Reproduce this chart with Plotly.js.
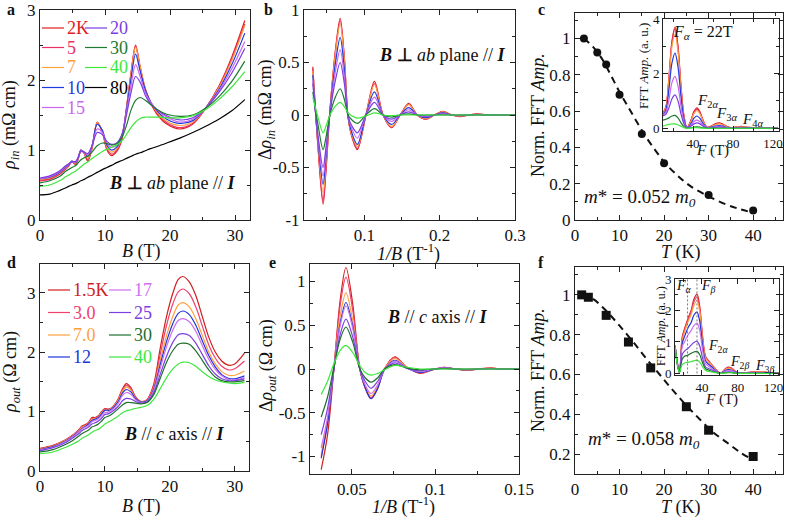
<!DOCTYPE html>
<html><head><meta charset="utf-8">
<script src="https://cdn.plot.ly/plotly-3.0.1.min.js"></script>
<style>html,body{margin:0;padding:0;background:#fff}#g{width:787px;height:517px}</style>
</head><body><div id="g"></div>
<script>
// ---------------- DATA ----------------
// panel a: rho_in vs B
const B_IN = [0,1.5,3,4,4.4,4.9,5.5,5.9,6.3,6.8,7.35,8.0,8.8,9.6,10.3,11.0,11.8,12.6,13.3,14.0,14.7,15.4,16.2,17,18,19.5,21.5,23.5,25.5,27.5,29.5,31.5];
const rhoIn2K  = [0.57,0.59,0.66,0.74,0.77,0.84,0.79,0.88,1.00,0.95,0.84,1.02,1.40,1.25,1.00,0.92,0.98,1.15,1.60,2.10,2.50,2.19,1.86,1.67,1.51,1.37,1.30,1.37,1.60,1.91,2.33,2.85];
const rhoIn5K  = [0.56,0.58,0.65,0.73,0.77,0.83,0.80,0.88,1.00,0.95,0.86,1.03,1.39,1.26,1.02,0.94,1.00,1.17,1.60,2.09,2.48,2.18,1.87,1.68,1.53,1.39,1.32,1.38,1.60,1.90,2.30,2.80];
const rhoIn7K  = [0.58,0.60,0.67,0.75,0.78,0.84,0.81,0.89,1.00,0.96,0.88,1.04,1.39,1.27,1.04,0.97,1.02,1.18,1.60,2.08,2.47,2.19,1.88,1.69,1.54,1.41,1.35,1.40,1.60,1.89,2.28,2.78];
const rhoIn10K = [0.59,0.61,0.68,0.76,0.79,0.84,0.82,0.90,1.00,0.97,0.91,1.06,1.37,1.28,1.07,1.00,1.04,1.20,1.58,2.02,2.37,2.13,1.86,1.69,1.56,1.44,1.38,1.42,1.60,1.86,2.22,2.67];
const rhoIn15K = [0.59,0.62,0.69,0.77,0.80,0.83,0.83,0.90,0.99,0.97,0.93,1.06,1.30,1.25,1.09,1.04,1.07,1.22,1.55,1.92,2.22,2.05,1.82,1.68,1.57,1.47,1.40,1.44,1.60,1.84,2.16,2.55];
const rhoIn20K = [0.60,0.63,0.70,0.78,0.80,0.83,0.84,0.90,0.98,0.97,0.95,1.06,1.25,1.22,1.12,1.08,1.10,1.22,1.50,1.82,2.05,1.97,1.78,1.66,1.58,1.49,1.43,1.46,1.60,1.82,2.10,2.45];
const rhoIn30K = [0.53,0.56,0.62,0.70,0.72,0.75,0.78,0.82,0.86,0.89,0.91,0.97,1.06,1.10,1.09,1.07,1.09,1.18,1.35,1.57,1.71,1.75,1.71,1.65,1.58,1.51,1.48,1.50,1.60,1.76,1.98,2.27];
const rhoIn40K = [0.48,0.50,0.56,0.62,0.64,0.67,0.70,0.73,0.76,0.80,0.83,0.88,0.93,0.98,1.01,1.04,1.07,1.13,1.22,1.32,1.40,1.45,1.47,1.47,1.47,1.46,1.46,1.49,1.58,1.72,1.90,2.12];
const rhoIn80K = [0.36,0.37,0.42,0.46,0.48,0.50,0.52,0.54,0.56,0.58,0.61,0.64,0.68,0.72,0.75,0.78,0.82,0.85,0.88,0.91,0.94,0.96,0.99,1.02,1.05,1.10,1.17,1.25,1.34,1.44,1.56,1.72];
const LABELS_IN = ['2K','5','7','10','15','20','30','40','80'];

// panel b: delta rho_in vs 1/B
const U_IN = [0.0317,0.0385,0.0453,0.049,0.0545,0.0622,0.068,0.0735,0.0785,0.084,0.0908,0.1022,0.1135,0.1249,0.1362,0.1476,0.159,0.1703,0.1817,0.193,0.2045,0.216,0.227,0.239,0.25,0.262,0.273,0.3];
const dIn2K  = [0.46,-0.30,-0.85,-0.55,0.05,0.65,0.92,0.55,-0.02,-0.22,-0.33,0,0.32,0,-0.12,0,0.11,0,-0.04,0,0.035,0,-0.015,0,0.012,0,-0.004,0];
const dIn5K  = [0.44,-0.29,-0.82,-0.53,0.05,0.63,0.90,0.54,-0.02,-0.21,-0.32,0,0.30,0,-0.12,0,0.10,0,-0.04,0,0.03,0,-0.012,0,0.01,0,-0.003,0];
const dIn7K  = [0.42,-0.26,-0.74,-0.47,0.05,0.61,0.87,0.52,-0.02,-0.20,-0.30,0,0.29,0,-0.11,0,0.10,0,-0.035,0,0.03,0,-0.01,0,0.008,0,-0.003,0];
const dIn10K = [0.38,-0.24,-0.66,-0.42,0.04,0.52,0.74,0.44,-0.02,-0.18,-0.28,0,0.22,0,-0.09,0,0.07,0,-0.025,0,0.02,0,-0.007,0,0.005,0,-0.002,0];
const dIn15K = [0.33,-0.22,-0.58,-0.37,0.03,0.44,0.62,0.37,-0.01,-0.14,-0.22,0,0.17,0,-0.06,0,0.05,0,-0.015,0,0.012,0,-0.004,0,0.003,0,0,0];
const dIn20K = [0.30,-0.19,-0.50,-0.32,0.02,0.35,0.50,0.30,-0.01,-0.11,-0.17,0,0.12,0,-0.04,0,0.03,0,-0.01,0,0.008,0,-0.002,0,0.002,0,0,0];
const dIn30K = [0.22,-0.09,-0.33,-0.22,0.0,0.18,0.25,0.15,0.0,-0.05,-0.08,0,0.06,0,-0.02,0,0.01,0,0,0,0,0,0,0,0,0,0,0];
const dIn40K = [0.17,-0.02,-0.17,-0.11,0.0,0.09,0.12,0.08,0.02,-0.01,-0.03,-0.01,0.02,0,-0.005,0,0,0,0,0,0,0,0,0,0,0,0,0];

// panel c: normalized FFT amplitude vs T
const T_C = [2,5,7,10,15,20,30,40];
const AMP_C = [1.0,0.923,0.857,0.69,0.474,0.312,0.138,0.053];
const T_C_FIT = [2,4,6,8,10,12,14,16,18,20,23,26,30,34,37,40];
const AMP_C_FIT = [1.0,0.955,0.89,0.8,0.705,0.62,0.535,0.455,0.385,0.32,0.245,0.185,0.13,0.085,0.06,0.04];
// panel c inset: FFT spectra
const F_C = [10,13,16,19,22,25,28,31,34,38,41,44,47,50,54,58,62,66,70,74,78,83,88,93,100,110,125];
const fftC2K  = [0.55,0.8,1.9,3.2,3.7,3.0,1.55,0.45,0.02,0.3,0.62,0.75,0.6,0.3,0.04,0.08,0.16,0.2,0.15,0.06,0.02,0.05,0.07,0.04,0.02,0.01,0.0];
const fftC5K  = [0.55,0.78,1.85,3.15,3.65,2.95,1.5,0.43,0.02,0.28,0.58,0.7,0.56,0.28,0.04,0.07,0.14,0.18,0.13,0.05,0.02,0.04,0.06,0.03,0.02,0.01,0.0];
const fftC7K  = [0.53,0.75,1.78,3.0,3.45,2.8,1.42,0.4,0.02,0.26,0.54,0.65,0.52,0.26,0.04,0.06,0.13,0.16,0.12,0.05,0.02,0.04,0.05,0.03,0.02,0.01,0.0];
const fftC10K = [0.5,0.68,1.45,2.4,2.75,2.25,1.15,0.33,0.02,0.18,0.37,0.45,0.36,0.18,0.03,0.04,0.08,0.1,0.08,0.03,0.01,0.02,0.03,0.02,0.01,0.0,0.0];
const fftC15K = [0.48,0.6,1.05,1.68,1.9,1.55,0.8,0.24,0.01,0.12,0.25,0.3,0.24,0.12,0.02,0.03,0.05,0.06,0.05,0.02,0.01,0.01,0.02,0.01,0.0,0.0,0.0];
const fftC20K = [0.45,0.52,0.75,1.08,1.22,1.0,0.52,0.16,0.01,0.08,0.16,0.2,0.16,0.08,0.01,0.02,0.03,0.04,0.03,0.01,0.0,0.0,0.01,0.0,0.0,0.0,0.0];
const fftC30K = [0.3,0.33,0.38,0.45,0.47,0.38,0.2,0.06,0.0,0.02,0.04,0.05,0.04,0.02,0.0,0.0,0.0,0.0,0.0,0.0,0.0,0.0,0.0,0.0,0.0,0.0,0.0];
const fftC40K = [0.08,0.12,0.14,0.16,0.16,0.12,0.07,0.02,0.0,0.01,0.02,0.02,0.01,0.0,0.0,0.0,0.0,0.0,0.0,0.0,0.0,0.0,0.0,0.0,0.0,0.0,0.0];

// panel d: rho_out vs B
const B_OUT = [0,2,4,5,6,6.5,7,7.5,8,8.5,9,9.5,10,10.5,11,12,12.7,13.3,14,14.7,15.5,16.5,17.5,18.5,19.5,20.5,21.3,22,23,24,25,26,27,28,29,30,31.5];
const rhoOut1p5K = [0.38,0.43,0.53,0.60,0.70,0.76,0.78,0.82,0.90,0.90,0.93,1.00,1.05,1.04,1.06,1.20,1.38,1.47,1.40,1.25,1.17,1.20,1.45,2.05,2.60,3.00,3.22,3.27,3.18,2.95,2.60,2.25,2.00,1.85,1.78,1.80,1.98];
const rhoOut3K  = [0.37,0.42,0.52,0.59,0.69,0.75,0.77,0.81,0.88,0.89,0.92,0.99,1.04,1.03,1.05,1.19,1.36,1.44,1.38,1.24,1.17,1.2,1.42,1.95,2.45,2.82,3.01,3.06,2.98,2.76,2.44,2.12,1.9,1.76,1.70,1.72,1.85];
const rhoOut7K  = [0.37,0.42,0.52,0.59,0.68,0.74,0.76,0.8,0.87,0.88,0.91,0.98,1.03,1.02,1.05,1.18,1.34,1.41,1.36,1.23,1.17,1.19,1.39,1.85,2.28,2.61,2.79,2.83,2.76,2.56,2.28,2.0,1.8,1.67,1.61,1.61,1.68];
const rhoOut12K = [0.36,0.41,0.51,0.58,0.67,0.72,0.75,0.79,0.85,0.87,0.9,0.96,1.02,1.02,1.04,1.16,1.31,1.37,1.33,1.22,1.16,1.18,1.37,1.78,2.18,2.49,2.65,2.69,2.63,2.45,2.19,1.94,1.75,1.62,1.56,1.55,1.6];
const rhoOut17K = [0.35,0.4,0.5,0.57,0.66,0.71,0.74,0.77,0.83,0.85,0.88,0.93,0.98,0.99,1.02,1.13,1.27,1.32,1.29,1.2,1.15,1.17,1.35,1.72,2.09,2.38,2.53,2.56,2.51,2.35,2.11,1.88,1.71,1.6,1.54,1.53,1.57];
const rhoOut25K = [0.34,0.39,0.48,0.55,0.63,0.68,0.71,0.74,0.79,0.81,0.84,0.89,0.95,0.96,0.99,1.08,1.18,1.22,1.21,1.17,1.14,1.16,1.31,1.62,1.93,2.17,2.29,2.31,2.28,2.15,1.96,1.77,1.63,1.55,1.52,1.52,1.55];
const rhoOut30K = [0.32,0.36,0.45,0.51,0.59,0.63,0.66,0.69,0.74,0.76,0.79,0.84,0.9,0.92,0.95,1.04,1.11,1.15,1.15,1.14,1.13,1.15,1.28,1.55,1.83,2.03,2.13,2.15,2.13,2.02,1.86,1.7,1.58,1.52,1.5,1.5,1.52];
const rhoOut40K = [0.29,0.32,0.4,0.45,0.51,0.55,0.58,0.61,0.65,0.68,0.7,0.74,0.79,0.82,0.85,0.92,0.98,1.01,1.03,1.05,1.07,1.1,1.2,1.38,1.57,1.72,1.8,1.83,1.82,1.76,1.67,1.59,1.53,1.5,1.48,1.47,1.49];
const LABELS_OUT = ['1.5K','3.0','7.0','12','17','25','30','40'];

// panel e: delta rho_out vs 1/B
const U_OUT = [0.0317,0.0355,0.0393,0.043,0.0465,0.0505,0.0548,0.058,0.0615,0.0655,0.0695,0.0757,0.083,0.091,0.098,0.105,0.112,0.119,0.126,0.133,0.14,0.15];
const dOut1p5K = [-1.15,-0.75,0.0,0.78,1.16,0.75,0.0,-0.22,-0.34,-0.22,0.0,0.14,0.02,-0.05,-0.01,0.02,0.0,-0.015,0.0,0.012,0.0,0.0];
const dOut3K  = [-1.0,-0.62,0.02,0.72,1.05,0.68,0.0,-0.21,-0.33,-0.21,0.0,0.13,0.02,-0.045,-0.01,0.018,0.0,-0.012,0.0,0.01,0.0,0.0];
const dOut7K  = [-0.97,-0.58,0.02,0.6,0.87,0.56,0.0,-0.2,-0.31,-0.2,0.0,0.12,0.02,-0.04,-0.01,0.016,0.0,-0.01,0.0,0.008,0.0,0.0];
const dOut12K = [-1.02,-0.62,0.0,0.52,0.76,0.5,0.0,-0.21,-0.34,-0.22,-0.01,0.1,0.01,-0.04,-0.01,0.014,0.0,-0.008,0.0,0.006,0.0,0.0];
const dOut17K = [-0.9,-0.55,0.0,0.49,0.72,0.47,0.0,-0.18,-0.28,-0.18,-0.01,0.09,0.01,-0.03,-0.005,0.012,0.0,-0.006,0.0,0.005,0.0,0.0];
const dOut25K = [-0.75,-0.45,0.0,0.39,0.57,0.37,0.0,-0.14,-0.22,-0.14,-0.01,0.07,0.01,-0.02,0.0,0.008,0.0,-0.004,0.0,0.003,0.0,0.0];
const dOut30K = [-0.55,-0.32,0.02,0.34,0.48,0.31,0.0,-0.1,-0.15,-0.1,0.0,0.05,0.01,-0.01,0.0,0.005,0.0,0.0,0.0,0.0,0.0,0.0];
const dOut40K = [-0.29,-0.14,0.06,0.21,0.27,0.19,0.04,-0.04,-0.07,-0.05,-0.01,0.04,0.02,0.0,0.0,0.0,0.0,0.0,0.0,0.0,0.0,0.0];

// panel f: normalized FFT amplitude vs T
const T_F = [1.5,3,7,12,17,25,30,40];
const AMP_F = [1.0,0.988,0.897,0.763,0.633,0.438,0.32,0.188];
const T_F_FIT = [1.5,4,7,10,13,16,19,22,25,28,31,34,37,40];
const AMP_F_FIT = [1.0,0.98,0.92,0.845,0.765,0.68,0.6,0.52,0.445,0.375,0.31,0.26,0.21,0.17];
// panel f inset: FFT spectra
const F_F = [10,12.5,15,18,21,24.5,28,31,34.5,37.5,40.5,44,48,52,56,61,65,69,73,77,81,87,95,103,111,119,126];
const fftF1p5K = [0.9,0.35,0.03,1.15,1.45,1.75,2.0,2.35,2.52,2.15,1.25,0.55,0.38,0.25,0.12,0.0,0.12,0.2,0.17,0.08,0.01,0.02,0.04,0.05,0.04,0.02,0.01];
const fftF3K  = [0.9,0.35,0.03,1.1,1.4,1.7,1.95,2.27,2.42,2.07,1.2,0.52,0.36,0.24,0.11,0.0,0.11,0.18,0.16,0.07,0.01,0.02,0.04,0.04,0.03,0.02,0.01];
const fftF7K  = [0.9,0.35,0.03,1.05,1.35,1.64,1.87,2.16,2.3,1.97,1.14,0.49,0.34,0.22,0.1,0.0,0.1,0.16,0.14,0.06,0.01,0.02,0.03,0.04,0.03,0.01,0.01];
const fftF12K = [0.9,0.34,0.03,0.95,1.2,1.45,1.62,1.85,1.95,1.67,0.97,0.4,0.28,0.18,0.08,0.0,0.08,0.12,0.11,0.05,0.01,0.01,0.02,0.03,0.02,0.01,0.0];
const fftF17K = [0.9,0.33,0.03,0.85,1.02,1.22,1.36,1.52,1.6,1.37,0.8,0.32,0.22,0.14,0.06,0.0,0.06,0.09,0.08,0.04,0.0,0.01,0.02,0.02,0.01,0.0,0.0];
const fftF25K = [0.9,0.32,0.03,0.6,0.72,0.8,0.9,0.98,1.02,0.88,0.52,0.21,0.15,0.1,0.04,0.0,0.03,0.05,0.04,0.02,0.0,0.0,0.01,0.01,0.0,0.0,0.0];
const fftF30K = [0.9,0.3,0.03,0.45,0.55,0.58,0.64,0.68,0.7,0.6,0.36,0.15,0.1,0.06,0.03,0.0,0.02,0.03,0.03,0.01,0.0,0.0,0.0,0.0,0.0,0.0,0.0];
const fftF40K = [0.9,0.3,0.03,0.28,0.34,0.35,0.38,0.4,0.42,0.36,0.22,0.1,0.06,0.04,0.02,0.0,0.01,0.02,0.02,0.01,0.0,0.0,0.0,0.0,0.0,0.0,0.0];
const F_MARKS = [24, 34.5];   // F_alpha, F_beta guide lines

// ---------------- STYLE ----------------
const FONT = '"Liberation Serif", "Times New Roman", Times, serif';
const W = 787, H = 517;
const COL_IN  = ['#e0201e','#ea2f66','#ffa040','#1e3ae0','#cc66ee','#7a3ee2','#1e7a2e','#3ce83c','#000000'];
const COL_OUT = ['#d01e1e','#f0406e','#ffa040','#2035d8','#cc70ee','#7a40e0','#1e6e2e','#3ce83c'];

const traces = [];
function lines(xs, list, cols, xa, ya, w) {
  list.forEach((ys, i) => traces.push({x: xs, y: ys, xaxis: xa, yaxis: ya, mode: 'lines', type: 'scatter',
    line: {color: cols[i], width: w || 1.2, shape: 'spline', smoothing: 0.9}, hoverinfo: 'skip', showlegend: false}));
}
lines(B_IN, [rhoIn2K,rhoIn5K,rhoIn7K,rhoIn10K,rhoIn15K,rhoIn20K,rhoIn30K,rhoIn40K,rhoIn80K], COL_IN, 'x', 'y');
lines(U_IN, [dIn2K,dIn5K,dIn7K,dIn10K,dIn15K,dIn20K,dIn30K,dIn40K], COL_IN, 'x2', 'y2');
lines(F_C, [fftC2K,fftC5K,fftC7K,fftC10K,fftC15K,fftC20K,fftC30K,fftC40K], COL_IN, 'x4', 'y4');
lines(B_OUT, [rhoOut1p5K,rhoOut3K,rhoOut7K,rhoOut12K,rhoOut17K,rhoOut25K,rhoOut30K,rhoOut40K], COL_OUT, 'x5', 'y5');
lines(U_OUT, [dOut1p5K,dOut3K,dOut7K,dOut12K,dOut17K,dOut25K,dOut30K,dOut40K], COL_OUT, 'x6', 'y6');
lines(F_F, [fftF1p5K,fftF3K,fftF7K,fftF12K,fftF17K,fftF25K,fftF30K,fftF40K], COL_OUT, 'x8', 'y8');

F_MARKS.forEach(f => traces.push({x: [f, f], y: [0, 3], xaxis: 'x8', yaxis: 'y8', mode: 'lines', type: 'scatter',
  line: {color: '#777', width: 1, dash: '2px,2px'}, hoverinfo: 'skip', showlegend: false}));

traces.push({x: T_C_FIT, y: AMP_C_FIT, xaxis: 'x3', yaxis: 'y3', mode: 'lines', type: 'scatter',
  line: {color: '#111', width: 2, dash: '7px,5px', shape: 'spline'}, showlegend: false});
traces.push({x: T_C, y: AMP_C, xaxis: 'x3', yaxis: 'y3', mode: 'markers', type: 'scatter',
  marker: {color: '#111', size: 8, symbol: 'circle'}, showlegend: false});
traces.push({x: T_F_FIT, y: AMP_F_FIT, xaxis: 'x7', yaxis: 'y7', mode: 'lines', type: 'scatter',
  line: {color: '#111', width: 2, dash: '7px,5px', shape: 'spline'}, showlegend: false});
traces.push({x: T_F, y: AMP_F, xaxis: 'x7', yaxis: 'y7', mode: 'markers', type: 'scatter',
  marker: {color: '#111', size: 9, symbol: 'square'}, showlegend: false});

function ax(x0, x1, range, tv, tt, minor, fs, anchor) {
  return {domain: [x0 / W, x1 / W], range, anchor, tickmode: 'array', tickvals: tv, ticktext: tt,
    showline: true, linecolor: '#222', linewidth: 1, mirror: 'ticks', ticks: 'inside', ticklen: 5, tickwidth: 1,
    tickcolor: '#222', showgrid: false, zeroline: false, fixedrange: true,
    tickfont: {family: FONT, size: fs || 17, color: '#111'},
    minor: {tickmode: 'linear', tick0: 0, dtick: minor, ticks: 'inside', ticklen: 3, tickwidth: 1, tickcolor: '#222', showgrid: false}};
}
function ay(y0, y1, range, tv, tt, minor, fs, anchor) {
  const a = ax(0, 1, range, tv, tt, minor, fs, anchor);
  a.domain = [1 - y1 / H, 1 - y0 / H];
  return a;
}
const s = v => v.map(String);

const layout = {
  width: W, height: H, margin: {l: 0, r: 0, t: 0, b: 0}, paper_bgcolor: '#fff', plot_bgcolor: 'rgba(0,0,0,0)',
  showlegend: false, font: {family: FONT, color: '#111'},
  xaxis:  ax(40, 250, [0, 32.3], [0,10,20,30], s([0,10,20,30]), 5, 17, 'y'),
  yaxis:  ay(10, 220, [0, 3], [0,1,2,3], s([0,1,2,3]), 0.5, 17, 'x'),
  xaxis2: ax(304, 515, [0.02, 0.3], [0.1,0.2,0.3], ['0.1','0.2','0.3'], 0.05, 17, 'y2'),
  yaxis2: ay(10, 220, [-1, 1], [-1,-0.5,0,0.5,1], ['-1','-0.5','0','0.5','1'], 0.25, 17, 'x2'),
  xaxis3: ax(575, 783, [0, 46.7], [0,10,20,30,40], s([0,10,20,30,40]), 5, 17, 'y3'),
  yaxis3: ay(13, 220, [0, 1.14], [0,0.2,0.4,0.6,0.8,1], ['0','0.2','0.4','0.6','0.8','1'], 0.1, 17, 'x3'),
  xaxis4: ax(663, 779, [10, 126], [40,80,120], s([40,80,120]), 20, 13, 'y4'),
  yaxis4: ay(19, 131, [-0.1, 4], [0,2,4], s([0,2,4]), 1, 13, 'x4'),
  xaxis5: ax(40, 249, [0, 32.2], [0,10,20,30], s([0,10,20,30]), 5, 17, 'y5'),
  yaxis5: ay(264, 471, [0, 3.48], [0,1,2,3], s([0,1,2,3]), 0.5, 17, 'x5'),
  xaxis6: ax(310, 519, [0.025, 0.15], [0.05,0.1,0.15], ['0.05','0.1','0.15'], 0.025, 17, 'y6'),
  yaxis6: ay(264, 474, [-1.2, 1.2], [-1,-0.5,0,0.5,1], ['-1','-0.5','0','0.5','1'], 0.25, 17, 'x6'),
  xaxis7: ax(575, 783, [0, 46.7], [0,10,20,30,40], s([0,10,20,30,40]), 5, 17, 'y7'),
  yaxis7: ay(267, 474, [0.1, 1.14], [0.2,0.4,0.6,0.8,1], ['0.2','0.4','0.6','0.8','1'], 0.1, 17, 'x7'),
  xaxis8: ax(675, 779, [10, 126], [40,80,120], s([40,80,120]), 20, 13, 'y8'),
  yaxis8: ay(279, 375, [-0.05, 3], [0,1,2,3], s([0,1,2,3]), 0.5, 13, 'x8'),
  annotations: [], shapes: []
};

function A(text, x, y, size, extra) {
  layout.annotations.push(Object.assign({xref: 'paper', yref: 'paper', x: x / W, y: 1 - y / H, text, showarrow: false,
    xanchor: 'center', yanchor: 'middle', font: {family: FONT, size: size || 16, color: '#111'}}, extra || {}));
}
// panel letters
[['a',11,10],['b',268,10],['c',541,10],['d',11,262],['e',272,262],['f',541,262]].forEach(p => A('<b>' + p[0] + '</b>', p[1], p[2], 16));
// axis titles
A('<i>ρ</i><sub><i>in</i></sub> (mΩ cm)', 11, 125, 18, {textangle: -90});
A('<i>B</i> (T)', 141, 251, 18);
A('Δ<i>ρ</i><sub><i>in</i></sub> (mΩ cm)', 267, 110, 18, {textangle: -90});
A('<i>1/B</i> (T<sup>-1</sup>)', 408, 253, 18);
A('Norm. FFT <i>Amp.</i>', 538, 115, 18, {textangle: -90});
A('<i>T</i> (K)', 681, 252, 18);
A('FFT <i>Amp.</i> (a. u.)', 644, 66, 13, {textangle: -90});
A('<i>F</i> (T)', 712, 151, 15);
A('<i>ρ</i><sub><i>out</i></sub> (Ω cm)', 11, 372, 18, {textangle: -90});
A('<i>B</i> (T)', 141, 506, 18);
A('Δ<i>ρ</i><sub><i>out</i></sub> (Ω cm)', 267, 366, 18, {textangle: -90});
A('<i>1/B</i> (T<sup>-1</sup>)', 404, 506, 18);
A('Norm. FFT <i>Amp.</i>', 538, 370, 18, {textangle: -90});
A('<i>T</i> (K)', 681, 507, 18);
A('FFT <i>Amp.</i> (a. u.)', 661, 326, 12, {textangle: -90});
A('<i>F</i> (T)', 721, 399, 15);
// in-plot texts
A('<b><i>B</i></b> <b>⊥</b> <i>ab</i> plane // <b><i>I</i></b>', 172, 183, 18);
A('<b><i>B</i></b> <b>⊥</b> <i>ab</i> plane // <b><i>I</i></b>', 442, 55, 18);
A('<b><i>B</i></b> // <i>c</i> axis // <b><i>I</i></b>', 174, 434, 18);
A('<b><i>B</i></b> // <i>c</i> axis // <b><i>I</i></b>', 437, 317, 18);
A('<i>m</i>* = 0.052 <i>m</i><sub><i>0</i></sub>', 640, 198, 19);
A('<i>m</i>* = 0.058 <i>m</i><sub><i>0</i></sub>', 644, 440, 19);
A('<i>F</i><sub><i>α</i></sub> = 22T', 703, 33, 16);
A('<i>F</i><sub>2<i>α</i></sub>', 707, 101, 15);
A('<i>F</i><sub>3<i>α</i></sub>', 726, 114, 15);
A('<i>F</i><sub>4<i>α</i></sub>', 752, 120, 15);
A('<i>F</i><sub><i>α</i></sub>', 684, 286, 14);
A('<i>F</i><sub><i>β</i></sub>', 708, 286, 14);
A('<i>F</i><sub>2<i>α</i></sub>', 718, 346, 14);
A('<i>F</i><sub>2<i>β</i></sub>', 739, 362, 14);
A('<i>F</i><sub>3<i>β</i></sub>', 764, 366, 14);

// hand-made legends
function legend(labels, cols, rows, colX, lineLen) {
  labels.forEach((lab, i) => {
    const c = i < rows.length ? 0 : 1;
    const r = c === 0 ? i : i - rows.length;
    const x0 = colX[c], y = rows[r];
    layout.shapes.push({type: 'line', xref: 'paper', yref: 'paper', x0: x0 / W, x1: (x0 + lineLen) / W,
      y0: 1 - y / H, y1: 1 - y / H, line: {color: cols[i], width: 1.2}});
    A(lab, x0 + lineLen + 1, y, 18, {xanchor: 'left', font: {family: FONT, size: 18, color: cols[i]}});
  });
}
legend(LABELS_IN, COL_IN, [28, 47.5, 67.5, 87.5, 107.5], [42, 85], 22);
legend(LABELS_OUT, COL_OUT, [290, 312.5, 335, 357], [48, 109], 22);

Plotly.newPlot('g', traces, layout, {displayModeBar: false, staticPlot: true});
</script></body></html>
